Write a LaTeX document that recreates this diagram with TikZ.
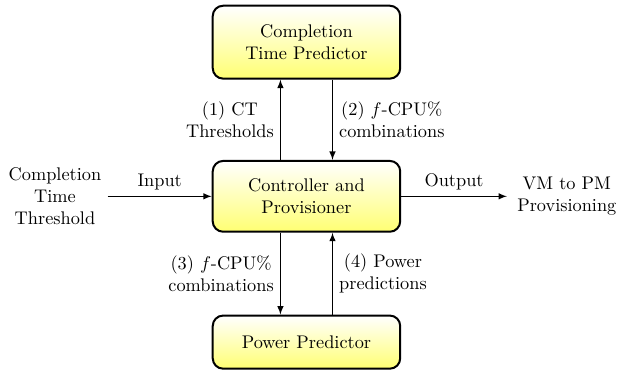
\documentclass[tikz,border=0pt]{standalone}
\usepackage[usenames,dvipsnames]{xcolor}
\usepackage{amsmath}
\usetikzlibrary{arrows,calc}

\tikzset{
  block/.style={draw,line width=1.1pt,rounded corners=2mm,top color=white,bottom color=yellow!55,align=center,minimum width=3.6cm},
  flow/.style={->,>=latex,semithick},
}

\begin{document}
\begin{tikzpicture}
            \useasboundingbox (-5.885,-3.37) rectangle (6.04,3.77);

            \node[block,minimum height=1.36cm] (ctrl) at (0, 0) {Controller and\\Provisioner};
            \node[block,minimum height=1.4cm] (ctp) at (0, 2.96) {Completion\\Time Predictor};
            \node[block,minimum height=1.02cm] (pp) at (0, -2.8) {Power Predictor};

            \node[align=center] (ctt) at (-4.83, 0) {Completion\\Time\\Threshold};
            \node[align=center] (vm) at (5.0, 0) {VM to PM\\Provisioning};
            \coordinate (out) at (3.85, 0);

            \draw[flow] (ctt) -- node[above] {Input} (ctrl);
            \draw[flow] (ctrl) -- node[above] {Output} (out);

            \draw[flow] ($(ctrl.north)+(-0.5,0)$) -- node[left,align=center] {(1) CT\\Thresholds} ($(ctp.south)+(-0.5,0)$);
            \draw[flow] ($(ctp.south)+(0.5,0)$) -- node[right,align=center] {(2) $f$-CPU\%\\combinations} ($(ctrl.north)+(0.5,0)$);

            \draw[flow] ($(ctrl.south)+(-0.5,0)$) -- node[left,align=center] {(3) $f$-CPU\%\\combinations} ($(pp.north)+(-0.5,0)$);
            \draw[flow] ($(pp.north)+(0.5,0)$) -- node[right,align=center] {(4) Power\\predictions} ($(ctrl.south)+(0.5,0)$);
        \end{tikzpicture}
\end{document}
